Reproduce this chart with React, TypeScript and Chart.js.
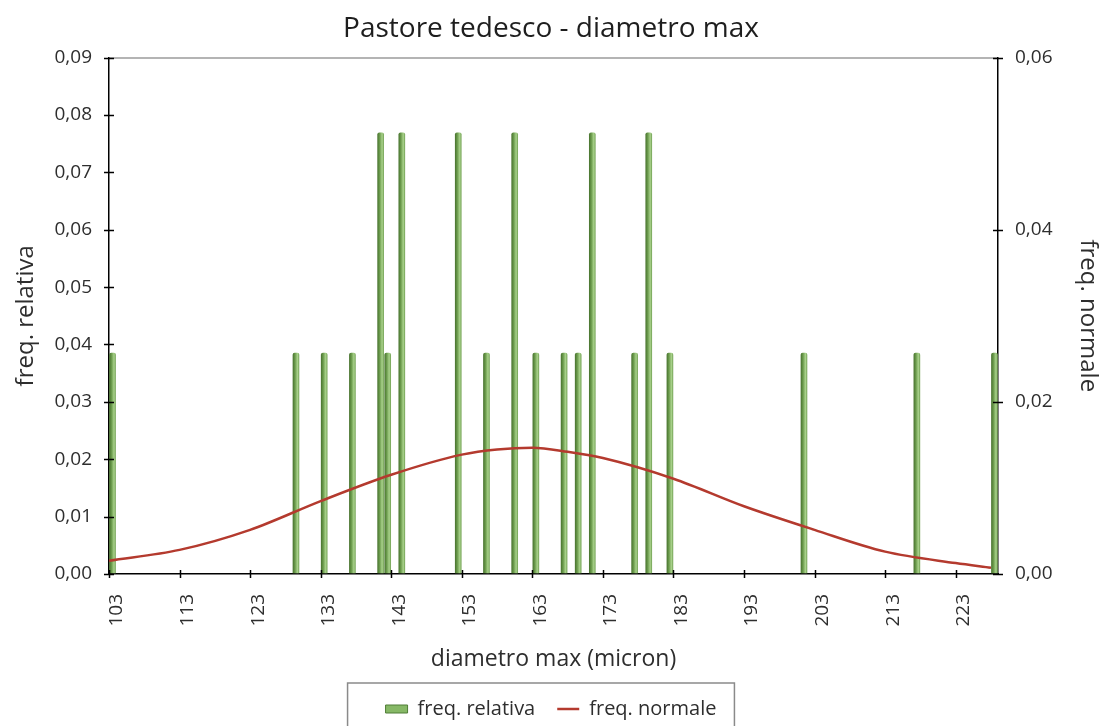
import { useEffect, useRef } from 'react';
import { Chart, registerables } from 'chart.js';

Chart.register(...registerables);

const chartTitle = 'Pastore tedesco - diametro max';
const xAxisTitle = 'diametro max (micron)';
const yAxisTitle = 'freq. relativa';
const y2AxisTitle = 'freq. normale';
const barSeriesLabel = 'freq. relativa';
const lineSeriesLabel = 'freq. normale';

// observed diameters (micron) and their relative frequency
const diameters = [103, 129, 133, 137, 141, 142, 144, 152, 156, 160, 163, 167, 169, 171, 177, 179, 182, 201, 217, 228];
const relFreq = [0.0385, 0.0385, 0.0385, 0.0385, 0.0769, 0.0385, 0.0769, 0.0769, 0.0385, 0.0769, 0.0385, 0.0385, 0.0385, 0.0769, 0.0385, 0.0769, 0.0385, 0.0385, 0.0385, 0.0385];

// normal curve (right axis units)
const normX = [103, 113, 123, 133, 143, 153, 158, 163, 168, 173, 183, 193, 203, 213, 223, 228];
const normY = [0.00153, 0.0028, 0.00513, 0.00847, 0.01153, 0.01387, 0.01447, 0.01467, 0.0142, 0.01347, 0.01107, 0.00787, 0.00513, 0.0026, 0.00127, 0.00073];

const xMin = 103;
const xMax = 229;
const xTicks = [103, 113, 123, 133, 143, 153, 163, 173, 183, 193, 203, 213, 223];
const xTickLabels = ['103', '113', '123', '133', '143', '153', '163', '173', '183', '193', '203', '213', '223'];
const leftTicks = [0, 0.01, 0.02, 0.03, 0.04, 0.05, 0.06, 0.07, 0.08, 0.09];
const leftTickLabels = ['0,00', '0,01', '0,02', '0,03', '0,04', '0,05', '0,06', '0,07', '0,08', '0,09'];
const rightTicks = [0, 0.02, 0.04, 0.06];
const rightTickLabels = ['0,00', '0,02', '0,04', '0,06'];

const FONT = "'Open Sans', 'DejaVu Sans', sans-serif";
const TEXT = '#2e2e2e';
const RED = '#b43a2e';

const tickMarks = {
  id: 'tickMarks',
  afterDraw(chart: any) {
    const { ctx, chartArea, scales } = chart;
    const { x, y, y2 } = scales;
    ctx.save();
    ctx.strokeStyle = '#000';
    ctx.lineWidth = 1.5;
    ctx.beginPath();
    y.ticks.forEach((t: any) => {
      const py = Math.round(y.getPixelForValue(t.value)) + 0.5;
      ctx.moveTo(chartArea.left - 5, py);
      ctx.lineTo(chartArea.left + 5, py);
    });
    y2.ticks.forEach((t: any) => {
      const py = Math.round(y2.getPixelForValue(t.value)) + 0.5;
      ctx.moveTo(chartArea.right - 5, py);
      ctx.lineTo(chartArea.right + 5, py);
    });
    x.ticks.forEach((t: any) => {
      const px = Math.round(x.getPixelForValue(t.value)) + 0.5;
      ctx.moveTo(px, chartArea.bottom - 4);
      ctx.lineTo(px, chartArea.bottom + 4);
    });
    ctx.stroke();

    // legend frame
    const boxes = chart.legend && chart.legend.legendHitBoxes;
    if (boxes && boxes.length) {
      const left = Math.min(...boxes.map((b: any) => b.left));
      const right = Math.max(...boxes.map((b: any) => b.left + b.width));
      const cy = boxes[0].top + boxes[0].height / 2;
      ctx.strokeStyle = '#8a8a8a';
      ctx.lineWidth = 1.5;
      ctx.strokeRect(left - 38, cy - 26, right - left + 56, 60);
    }
    ctx.restore();
  },
};

export default function App() {
  const ref = useRef<HTMLCanvasElement>(null);

  useEffect(() => {
    if (!ref.current) return;
    const barGradient = (c: any) => {
      const chart = c.chart;
      const xs = chart.scales && chart.scales.x;
      if (!xs || c.type !== 'data' || !c.raw) return '#7fb05e';
      const px = xs.getPixelForValue(c.raw.x);
      const g = chart.ctx.createLinearGradient(px - 3, 0, px + 3, 0);
      g.addColorStop(0, '#4b7631');
      g.addColorStop(0.35, '#6d9d4e');
      g.addColorStop(0.75, '#a9d28b');
      g.addColorStop(1, '#79a75b');
      return g;
    };

    const chart = new Chart(ref.current, {
      type: 'bar',
      data: {
        datasets: [
          {
            type: 'line',
            label: lineSeriesLabel,
            data: normX.map((v, i) => ({ x: v, y: normY[i] })),
            yAxisID: 'y2',
            borderColor: RED,
            backgroundColor: RED,
            borderWidth: 2.5,
            pointRadius: 0,
            cubicInterpolationMode: 'monotone',
            order: 0,
          } as any,
          {
            type: 'bar',
            label: barSeriesLabel,
            // each bar is centred in its 1-micron class
            data: diameters.map((v, i) => ({ x: v + 0.5, y: relFreq[i] })),
            yAxisID: 'y',
            backgroundColor: barGradient,
            borderWidth: 0,
            borderRadius: { topLeft: 2, topRight: 2, bottomLeft: 0, bottomRight: 0 },
            borderSkipped: 'bottom',
            barThickness: 6,
            order: 1,
          } as any,
        ],
      },
      options: {
        animation: false,
        responsive: true,
        maintainAspectRatio: false,
        layout: { padding: { left: 0, right: 0, top: 0, bottom: -3 } },
        plugins: {
          title: {
            display: true,
            text: chartTitle,
            color: '#1e1e1e',
            font: { family: FONT, size: 28, weight: 'normal' },
            padding: { top: 12, bottom: 12 },
          },
          legend: {
            display: true,
            position: 'bottom',
            labels: {
              color: TEXT,
              font: { family: FONT, size: 20 },
              usePointStyle: true,
              pointStyleWidth: 22,
              boxHeight: 8,
              padding: 22,
              generateLabels: () => [
                {
                  text: barSeriesLabel,
                  fillStyle: '#86b866',
                  strokeStyle: '#4f7d36',
                  lineWidth: 1,
                  pointStyle: 'rect',
                  datasetIndex: 1,
                  hidden: false,
                  fontColor: TEXT,
                },
                {
                  text: lineSeriesLabel,
                  fillStyle: RED,
                  strokeStyle: RED,
                  lineWidth: 2.5,
                  pointStyle: 'line',
                  datasetIndex: 0,
                  hidden: false,
                  fontColor: TEXT,
                },
              ],
            },
          },
          tooltip: { enabled: false },
        },
        scales: {
          x: {
            type: 'linear',
            min: xMin,
            max: xMax,
            offset: false,
            afterBuildTicks: (s: any) => {
              s.ticks = xTicks.map((v) => ({ value: v }));
            },
            afterFit: (s: any) => {
              s.height = 103;
            },
            ticks: {
              autoSkip: false,
              minRotation: 90,
              maxRotation: 90,
              padding: 20,
              labelOffset: 8,
              color: TEXT,
              font: { family: FONT, size: 19 },
              callback: (_v: any, i: number) => xTickLabels[i],
            },
            grid: { display: false, drawTicks: false, offset: false },
            border: { display: true, color: '#000', width: 1.5 },
            title: {
              display: true,
              text: xAxisTitle,
              color: TEXT,
              font: { family: FONT, size: 23 },
              padding: { top: 4, bottom: 4 },
            },
          },
          y: {
            type: 'linear',
            position: 'left',
            min: 0,
            max: 0.09,
            afterBuildTicks: (s: any) => {
              s.ticks = leftTicks.map((v) => ({ value: v }));
            },
            afterFit: (s: any) => {
              s.width = 109;
            },
            ticks: {
              padding: 17,
              color: TEXT,
              font: { family: FONT, size: 19 },
              callback: (_v: any, i: number) => leftTickLabels[i],
            },
            grid: {
              display: true,
              drawTicks: false,
              lineWidth: 2,
              color: (c: any) => (c.tick && c.tick.value === 0.09 ? '#b4b4b4' : 'rgba(0,0,0,0)'),
            },
            border: { display: true, color: '#000', width: 1.5 },
            title: {
              display: true,
              text: yAxisTitle,
              color: TEXT,
              font: { family: FONT, size: 24 },
              padding: { top: 12, bottom: 0 },
            },
          },
          y2: {
            type: 'linear',
            position: 'right',
            min: 0,
            max: 0.06,
            afterBuildTicks: (s: any) => {
              s.ticks = rightTicks.map((v) => ({ value: v }));
            },
            afterFit: (s: any) => {
              s.width = 104;
            },
            ticks: {
              padding: 17,
              color: TEXT,
              font: { family: FONT, size: 19 },
              callback: (_v: any, i: number) => rightTickLabels[i],
            },
            grid: { display: false, drawTicks: false },
            border: { display: true, color: '#000', width: 1.5 },
            title: {
              display: true,
              text: y2AxisTitle,
              color: TEXT,
              font: { family: FONT, size: 24 },
              padding: { top: 0, bottom: 0 },
            },
          },
        },
      },
      plugins: [tickMarks],
    });
    return () => chart.destroy();
  }, []);

  return (
    <div style={{ position: 'fixed', left: 0, top: 0, width: 1102, height: 726, background: '#fff' }}>
      <canvas ref={ref} />
    </div>
  );
}
